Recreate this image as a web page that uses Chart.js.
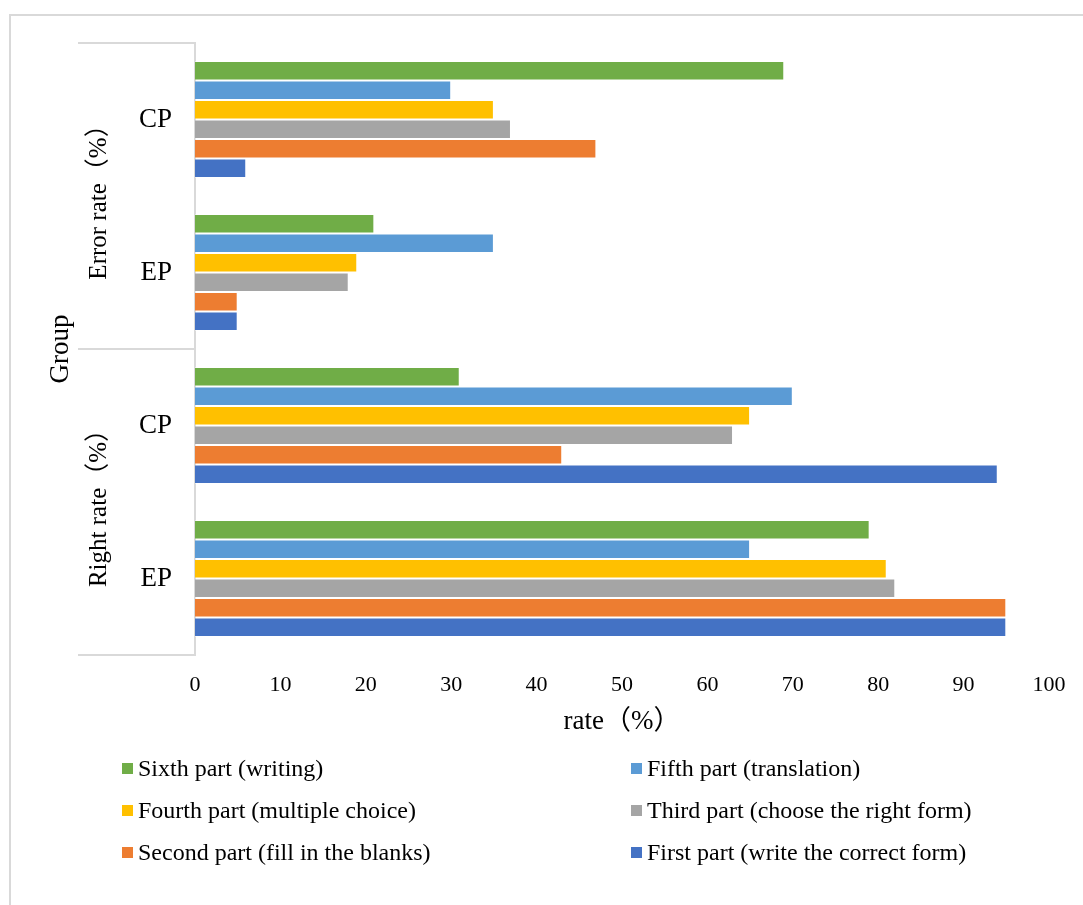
<!DOCTYPE html>
<html>
<head>
<meta charset="utf-8">
<script src="https://cdn.jsdelivr.net/npm/chart.js@4.4.1/dist/chart.umd.min.js"></script>
<style>
  html, body { margin: 0; padding: 0; background: #ffffff; }
  #wrap { position: relative; width: 1083px; height: 905px; overflow: hidden; }
  #frame { position: absolute; left: 9px; top: 14px; width: 1200px; height: 1000px;
           border: 2px solid #d9d9d9; box-sizing: border-box; }
  canvas { position: absolute; left: 0; top: 0; }
  .lg { position: absolute; font-family: 'Liberation Serif', 'Times New Roman', 'Noto Sans CJK SC', serif;
        font-size: 24px; color: #000; white-space: nowrap; line-height: 1; }
  .lg i { position: absolute; width: 11px; height: 11px; left: 0; top: 50%; margin-top: -5px; }
  .lg span { position: absolute; left: 16px; top: 50%; transform: translateY(-50%); }
</style>
</head>
<body>
<div id="wrap">
  <div id="frame"></div>
  <canvas id="c" width="1083" height="905"></canvas>
  <div id="legend"></div>
</div>
<script>
// Rows of the bar chart, top to bottom, with their outer group
const groupLabels = ['CP', 'EP', 'CP', 'EP'];
const outerGroups = ['Error rate（%）', 'Right rate（%）'];

// Test parts (dataset order = legend order, top bar first inside each row)
const partNames = [
  'Sixth part (writing)',
  'Fifth part (translation)',
  'Fourth part (multiple choice)',
  'Third part (choose the right form)',
  'Second part (fill in the blanks)',
  'First part (write the correct form)'
];

// Rates (%) per part for [Error CP, Error EP, Right CP, Right EP]
const sixthPart  = [69, 21, 31, 79];
const fifthPart  = [30, 35, 70, 65];
const fourthPart = [35, 19, 65, 81];
const thirdPart  = [37, 18, 63, 82];
const secondPart = [47,  5, 43, 95];
const firstPart  = [ 6,  5, 94, 95];

const xTicks = [0, 10, 20, 30, 40, 50, 60, 70, 80, 90, 100];

const partColors = ['#70AD47', '#5B9BD5', '#FFC000', '#A5A5A5', '#ED7D31', '#4472C4'];
const seriesValues = [sixthPart, fifthPart, fourthPart, thirdPart, secondPart, firstPart];

const FONT = "'Liberation Serif', 'Times New Roman', 'Noto Sans CJK SC', serif";
const AXIS_LINE = '#d9d9d9';

// Outer category labels, divider lines and the "Group" title
const groupAxisPlugin = {
  id: 'groupAxis',
  afterDraw(chart) {
    const ctx = chart.ctx;
    const area = chart.chartArea;
    const y = chart.scales.y;
    const half = (y.getPixelForValue(1) - y.getPixelForValue(0)) / 2;
    const lineLeft = 78;
    ctx.save();
    ctx.strokeStyle = AXIS_LINE;
    ctx.lineWidth = 2;
    const bounds = [y.getPixelForValue(0) - half, y.getPixelForValue(1) + half, y.getPixelForValue(3) + half];
    bounds.forEach(py => {
      ctx.beginPath();
      ctx.moveTo(lineLeft, Math.round(py));
      ctx.lineTo(area.left, Math.round(py));
      ctx.stroke();
    });
    ctx.fillStyle = '#000';
    ctx.textAlign = 'center';
    ctx.textBaseline = 'middle';
    ctx.font = '25px ' + FONT;
    outerGroups.forEach((name, i) => {
      const cy = (bounds[i] + bounds[i + 1]) / 2;
      ctx.save();
      ctx.translate(99, cy);
      ctx.rotate(-Math.PI / 2);
      ctx.fillText(name, 0, 0);
      ctx.restore();
    });
    ctx.font = '27px ' + FONT;
    ctx.save();
    ctx.translate(61, bounds[1]);
    ctx.rotate(-Math.PI / 2);
    ctx.fillText('Group', 0, 0);
    ctx.restore();
    ctx.restore();
  }
};

const chart = new Chart(document.getElementById('c'), {
  type: 'bar',
  data: {
    labels: groupLabels,
    datasets: partNames.map((name, i) => ({
      label: name,
      data: seriesValues[i],
      backgroundColor: partColors[i],
      borderColor: 'rgba(255,255,255,0.45)',
      borderWidth: 1,
      categoryPercentage: 0.765,
      barPercentage: 1.0
    }))
  },
  options: {
    indexAxis: 'y',
    responsive: false,
    animation: false,
    layout: { padding: { top: 43, right: 34, bottom: 163, left: 0 } },
    plugins: {
      legend: { display: false },
      tooltip: { enabled: false }
    },
    scales: {
      x: {
        min: 0,
        max: 100,
        afterBuildTicks(scale) { scale.ticks = xTicks.map(v => ({ value: v })); },
        afterFit(scale) { scale.height = 87; },
        grid: { display: false, drawTicks: false },
        border: { display: false },
        ticks: { color: '#000', font: { family: FONT, size: 22 }, padding: 17, maxRotation: 0 },
        title: { display: true, text: 'rate（%）', color: '#000', font: { family: FONT, size: 27 } }
      },
      y: {
        afterFit(scale) { scale.width = 195; },
        grid: { display: false, drawTicks: false },
        border: { display: true, color: AXIS_LINE, width: 2 },
        ticks: { color: '#000', font: { family: FONT, size: 27 }, padding: 23 }
      }
    }
  },
  plugins: [groupAxisPlugin]
});

// Two-column legend below the plot
const legendBox = document.getElementById('legend');
const legendCols = [122, 631];
const legendRows = [768, 810, 852];
partNames.forEach((name, i) => {
  const item = document.createElement('div');
  item.className = 'lg';
  item.style.left = legendCols[i % 2] + 'px';
  item.style.top = (legendRows[Math.floor(i / 2)] - 15) + 'px';
  item.style.height = '30px';
  item.innerHTML = '<i style="background:' + partColors[i] + '"></i><span></span>';
  item.querySelector('span').textContent = name;
  legendBox.appendChild(item);
});
</script>
</body>
</html>
